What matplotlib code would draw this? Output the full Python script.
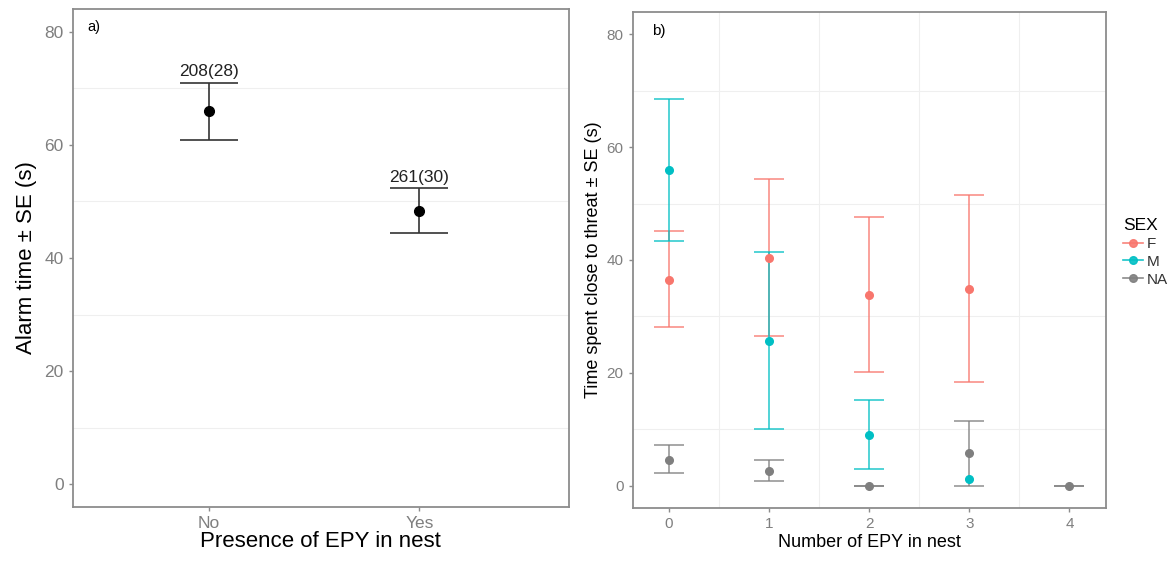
import numpy as np
import matplotlib
matplotlib.use("Agg")
import matplotlib.pyplot as plt
from matplotlib.lines import Line2D

plt.rcParams['font.family'] = ['Liberation Sans', 'DejaVu Sans']

# panel a: alarm time by presence of EPY
epy_presence = ["No", "Yes"]
alarm_mean = [66.0, 48.3]
alarm_low = [60.9, 44.4]
alarm_high = [70.9, 52.3]
alarm_n = ["208(28)", "261(30)"]

# panel b: time close to threat by number of EPY and sex
epy_number = [0, 1, 2, 3, 4]
sex_levels = ["F", "M", "NA"]
sex_colors = {"F": "#F8766D", "M": "#00BFC4", "NA": "#7F7F7F"}
threat_x = {"F": [0, 1, 2, 3], "M": [0, 1, 2, 3], "NA": [0, 1, 2, 3, 4]}
threat_mean = {"F": [36.5, 40.4, 33.8, 34.9],
               "M": [55.9, 25.7, 9.0, 1.1],
               "NA": [4.6, 2.6, 0.0, 5.8, 0.0]}
# nan = no error bar drawn
threat_low = {"F": [28.1, 26.5, 20.1, 18.4],
              "M": [43.3, 10.0, 2.9, np.nan],
              "NA": [2.2, 0.8, 0.0, 0.0, 0.0]}
threat_high = {"F": [45.2, 54.4, 47.7, 51.6],
               "M": [68.5, 41.4, 15.1, np.nan],
               "NA": [7.2, 4.5, 0.0, 11.5, 0.0]}

frame_col = "#8C8C8C"
grid_col = "#EFEFEF"
tick_col = "#7F7F7F"


def style_axes(ax, fs):
    for s in ax.spines.values():
        s.set_color(frame_col)
        s.set_linewidth(1.3)
    ax.tick_params(colors=frame_col, labelcolor=tick_col, labelsize=fs,
                   length=3, width=1)
    ax.set_axisbelow(True)


fig = plt.figure(figsize=(11.72, 5.62), dpi=100)

# ---- panel a ----
ax1 = fig.add_axes([0.0620, 0.0984, 0.4232, 0.8851])
xa = np.arange(1, len(epy_presence) + 1)
ax1.set_xlim(0.35, 2.711)
ax1.set_ylim(-4, 84)
for y in [10, 30, 50, 70]:
    ax1.axhline(y, color=grid_col, lw=0.8, zorder=0)
yerr = [np.array(alarm_mean) - np.array(alarm_low),
        np.array(alarm_high) - np.array(alarm_mean)]
ax1.errorbar(xa, alarm_mean, yerr=yerr, fmt='o', color='black', ms=7,
             ecolor='#333333', elinewidth=1.2, capsize=21, capthick=1.2)
for x, hi, lab in zip(xa, alarm_high, alarm_n):
    ax1.text(x, hi + 0.7, lab, ha='center', va='bottom', fontsize=12.5,
             color='#222222')
ax1.set_xticks(xa)
ax1.set_xticklabels(epy_presence)
ax1.set_yticks([0, 20, 40, 60, 80])
style_axes(ax1, 12.5)
ax1.set_xlabel("Presence of EPY in nest", fontsize=16, labelpad=0)
ax1.set_ylabel("Alarm time \u00b1 SE (s)", fontsize=16, labelpad=5)
ax1.text(0.03, 0.978, "a)", transform=ax1.transAxes, fontsize=10.5,
         va='top', ha='left')

# ---- panel b ----
ax2 = fig.add_axes([0.5397, 0.0956, 0.4040, 0.8836])
ax2.set_xlim(-0.365, 4.365)
ax2.set_ylim(-4, 84)
for y in [10, 30, 50, 70]:
    ax2.axhline(y, color=grid_col, lw=0.8, zorder=0)
for x in [0.5, 1.5, 2.5, 3.5]:
    ax2.axvline(x, color=grid_col, lw=0.8, zorder=0)
for s in sex_levels:
    xs = np.array(threat_x[s], dtype=float)
    m = np.array(threat_mean[s])
    lo = np.array(threat_low[s])
    hi = np.array(threat_high[s])
    ok = np.isfinite(lo) & np.isfinite(hi)
    err = [m[ok] - lo[ok], hi[ok] - m[ok]]
    ax2.errorbar(xs[ok], m[ok], yerr=err, fmt='none', ecolor=sex_colors[s],
                 elinewidth=1.2, capsize=11, capthick=1.2, alpha=0.8)
    ax2.plot(xs, m, 'o', color=sex_colors[s], ms=5.5, zorder=3)
ax2.set_xticks(epy_number)
ax2.set_yticks([0, 20, 40, 60, 80])
style_axes(ax2, 11)
ax2.set_xlabel("Number of EPY in nest", fontsize=13, labelpad=2)
ax2.set_ylabel("Time spent close to threat \u00b1 SE (s)", fontsize=13,
               labelpad=3)
ax2.text(0.042, 0.975, "b)", transform=ax2.transAxes, fontsize=11,
         va='top', ha='left')

handles = [Line2D([0], [0], color=sex_colors[s], marker='o', ms=5.5, lw=1.2,
                  alpha=0.9)
           for s in sex_levels]
leg = fig.legend(handles, sex_levels, title="SEX", loc='upper left',
                 bbox_to_anchor=(0.958, 0.612), frameon=False, fontsize=11,
                 title_fontsize=12.5, handlelength=1.3, handletextpad=0.3,
                 labelspacing=0.25, borderaxespad=0, borderpad=0)
leg._legend_box.align = "left"
for t in leg.get_texts():
    t.set_color('#333333')

fig.savefig("out.png", dpi=100)
